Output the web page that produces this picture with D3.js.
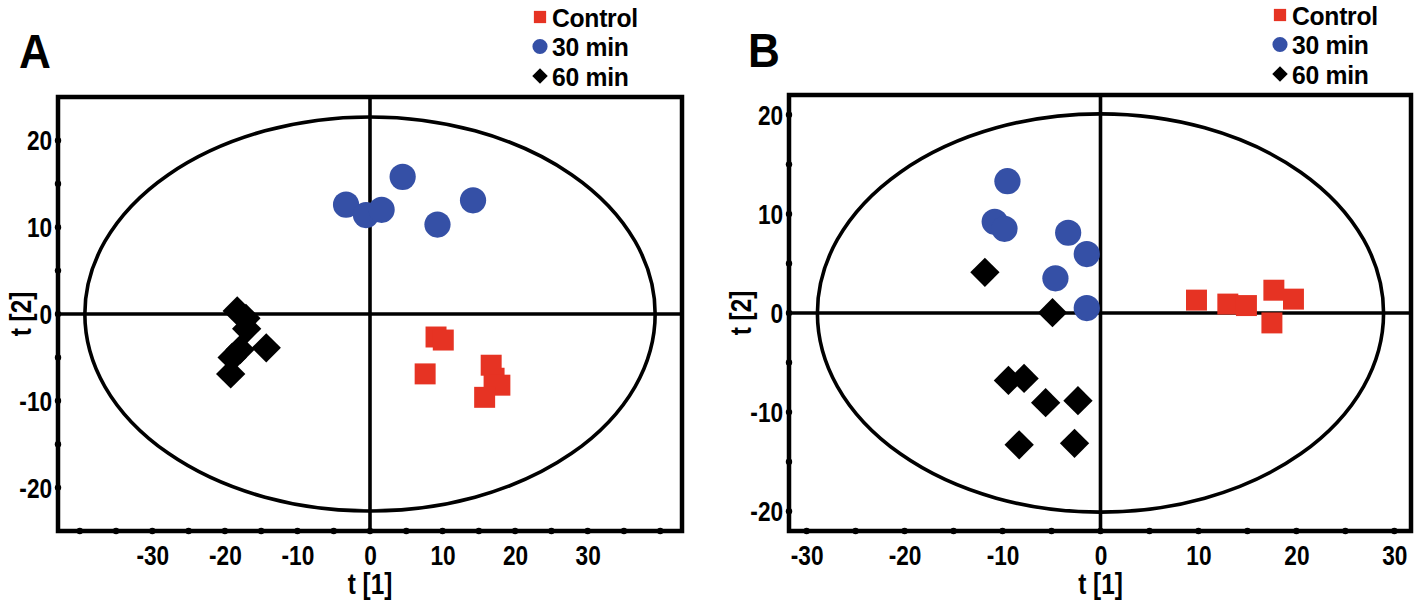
<!DOCTYPE html>
<html><head><meta charset="utf-8">
<script src="https://cdn.jsdelivr.net/npm/d3@7"></script>
<style>body{margin:0;background:#fff} svg{display:block}</style>
</head><body><svg id="c" width="1415" height="605"></svg>
<script>
// ---------- data ----------
const seriesNames = ["Control", "30 min", "60 min"];
const seriesColors = ["#e63323", "#3550a6", "#000000"];

// Panel A scores
const aControlX = [9.1, 10.1, 7.6, 16.7, 17.1, 17.9, 15.8];
const aControlY = [-2.65, -3.0, -6.9, -5.9, -7.4, -8.2, -9.6];
const a30X = [-3.3, -0.55, 1.6, 4.5, 14.2, 9.3];
const a30Y = [12.6, 11.4, 12.0, 15.8, 13.1, 10.3];
const a60X = [-18.3, -17.1, -17.0, -14.3, -17.9, -19.0, -19.2];
const a60Y = [0.35, -0.5, -1.7, -3.9, -4.1, -5.0, -6.9];

// Panel B scores
const bControlX = [9.8, 13.0, 14.9, 17.7, 19.7, 17.5];
const bControlY = [1.3, 0.9, 0.75, 2.3, 1.4, -1.0];
const b30X = [-9.5, -10.8, -9.8, -3.3, -1.4, -4.6, -1.4];
const b30Y = [13.3, 9.2, 8.5, 8.1, 5.95, 3.5, 0.5];
const b60X = [-11.8, -4.9, -9.4, -7.8, -5.6, -2.3, -8.3, -2.65];
const b60Y = [4.1, 0.03, -6.8, -6.6, -9.05, -8.85, -13.3, -13.15];

// axes
const aXDomain = [-43, 43], aYDomain = [-25, 25];
const bXDomain = [-31.8, 31.7], bYDomain = [-22, 22];
const aXLabels = [-30, -20, -10, 0, 10, 20, 30];
const aYLabels = [-20, -10, 0, 10, 20];
const aXDots = [-40, -35, -30, -25, -20, -15, -10, -5, 0, 5, 10, 15, 20, 25, 30, 35, 40];
const aYDots = [-20, -15, -10, -5, 0, 5, 10, 15, 20];
const bXLabels = [-30, -20, -10, 0, 10, 20, 30];
const bYLabels = [-20, -10, 0, 10, 20];
const bXDots = [-30, -25, -20, -15, -10, -5, 0, 5, 10, 15, 20, 25, 30];
const bYDots = [-20, -15, -10, -5, 0, 5, 10, 15, 20];
// Hotelling T2 ellipse radii (t[1], t[2])
const aEllipse = [39.3, 22.7];
const bEllipse = [28.9, 20.1];

const xTitle = "t [1]", yTitle = "t [2]";

// ---------- drawing ----------
const svg = d3.select("#c");
const FONT = "'Liberation Sans',Arial,sans-serif";
const SX = 0.84; // condensed look

function panel(cfg) {
  const g = svg.append("g");
  const x = d3.scaleLinear().domain(cfg.xDomain).range(cfg.xRange);
  const y = d3.scaleLinear().domain(cfg.yDomain).range(cfg.yRange);
  const [x0, x1] = cfg.xRange, [y1, y0] = cfg.yRange;

  // ellipse
  g.append("ellipse")
    .attr("cx", x(0)).attr("cy", y(0))
    .attr("rx", x(cfg.ellipse[0]) - x(0)).attr("ry", y(0) - y(cfg.ellipse[1]))
    .attr("fill", "none").attr("stroke", "#000").attr("stroke-width", 3.6);
  // cross lines
  g.append("line").attr("x1", x0).attr("x2", x1).attr("y1", y(0)).attr("y2", y(0))
    .attr("stroke", "#000").attr("stroke-width", 3.6);
  g.append("line").attr("x1", x(0)).attr("x2", x(0)).attr("y1", y0).attr("y2", y1)
    .attr("stroke", "#000").attr("stroke-width", 3.6);
  // frame
  g.append("rect").attr("x", x0).attr("y", y0).attr("width", x1 - x0).attr("height", y1 - y0)
    .attr("fill", "none").attr("stroke", "#000").attr("stroke-width", 4.5);

  // axes (labels)
  const fmt = d => String(d);
  const ax = g.append("g").attr("transform", `translate(0,${y1})`)
    .call(d3.axisBottom(x).tickValues(cfg.xLabels).tickSize(0).tickPadding(15).tickFormat(fmt));
  const ay = g.append("g").attr("transform", `translate(${x0},0)`)
    .call(d3.axisLeft(y).tickValues(cfg.yLabels).tickSize(0).tickPadding(7).tickFormat(fmt));
  [ax, ay].forEach(a => {
    a.select(".domain").remove();
    a.selectAll("text").attr("font-family", FONT).attr("font-weight", "bold")
      .attr("font-size", 27).attr("fill", "#000").attr("transform", `scale(${SX},1)`);
  });
  ax.selectAll("text").attr("dy", "0.71em");
  ay.selectAll("text").attr("dy", "0.35em");
  // tick dots
  g.selectAll(".xd").data(cfg.xDots).join("circle")
    .attr("cx", d => x(d)).attr("cy", y1).attr("r", 3.2).attr("fill", "#000");
  g.selectAll(".yd").data(cfg.yDots).join("circle")
    .attr("cx", x0).attr("cy", d => y(d)).attr("r", 3.2).attr("fill", "#000");

  // titles
  g.append("text").attr("transform", `translate(${x(0)},594) scale(${SX},1)`).attr("text-anchor", "middle")
    .attr("font-family", FONT).attr("font-weight", "bold").attr("font-size", 29).text(xTitle);
  g.append("text").attr("transform", `translate(${cfg.yTitleX},${y(0)}) rotate(-90) scale(${SX},1)`)
    .attr("text-anchor", "middle")
    .attr("font-family", FONT).attr("font-weight", "bold").attr("font-size", 29).text(yTitle);
  // panel letter
  g.append("text").attr("transform", `translate(${cfg.letterPos[0]},${cfg.letterPos[1]}) scale(0.92,1)`)
    .attr("font-family", FONT).attr("font-weight", "bold")
    .attr("font-size", 48).text(cfg.letter);

  // points
  const sq = d3.symbol().type(d3.symbolSquare).size(440);
  const ci = d3.symbol().type(d3.symbolCircle).size(540);
  const di = d3.symbol().type(d3.symbolSquare).size(430);
  const ctrl = cfg.controlX.map((v, i) => [v, cfg.controlY[i]]);
  const m30 = cfg.m30X.map((v, i) => [v, cfg.m30Y[i]]);
  const m60 = cfg.m60X.map((v, i) => [v, cfg.m60Y[i]]);
  g.selectAll(".p60").data(m60).join("path")
    .attr("d", di).attr("fill", seriesColors[2])
    .attr("transform", d => `translate(${x(d[0])},${y(d[1])}) rotate(45)`);
  g.selectAll(".p30").data(m30).join("path")
    .attr("d", ci).attr("fill", seriesColors[1])
    .attr("transform", d => `translate(${x(d[0])},${y(d[1])})`);
  g.selectAll(".pc").data(ctrl).join("path")
    .attr("d", sq).attr("fill", seriesColors[0])
    .attr("transform", d => `translate(${x(d[0])},${y(d[1])})`);

  // legend
  const lg = g.append("g").attr("transform", `translate(${cfg.legendPos[0]},${cfg.legendPos[1]})`);
  const lsyms = [
    d3.symbol().type(d3.symbolSquare).size(150),
    d3.symbol().type(d3.symbolCircle).size(180),
    d3.symbol().type(d3.symbolSquare).size(120)
  ];
  seriesNames.forEach((name, i) => {
    const row = lg.append("g").attr("transform", `translate(0,${i * 29.5})`);
    row.append("path").attr("d", lsyms[i]).attr("fill", seriesColors[i])
      .attr("transform", i === 2 ? "rotate(45)" : null);
    row.append("text").attr("transform", `translate(12,9.5) scale(0.95,1)`)
      .attr("font-family", FONT).attr("font-weight", "bold").attr("font-size", 26)
      .attr("letter-spacing", -0.3).text(name);
  });
}

panel({
  xDomain: aXDomain, yDomain: aYDomain, xRange: [58, 682], yRange: [531, 97],
  xLabels: aXLabels, yLabels: aYLabels, xDots: aXDots, yDots: aYDots, ellipse: aEllipse,
  controlX: aControlX, controlY: aControlY, m30X: a30X, m30Y: a30Y, m60X: a60X, m60Y: a60Y,
  yTitleX: 31, letterPos: [19, 68], letter: "A", legendPos: [540, 17]
});
panel({
  xDomain: bXDomain, yDomain: bYDomain, xRange: [789, 1411], yRange: [531, 95],
  xLabels: bXLabels, yLabels: bYLabels, xDots: bXDots, yDots: bYDots, ellipse: bEllipse,
  controlX: bControlX, controlY: bControlY, m30X: b30X, m30Y: b30Y, m60X: b60X, m60Y: b60Y,
  yTitleX: 751, letterPos: [748, 67], letter: "B", legendPos: [1280, 15]
});
</script></body></html>
